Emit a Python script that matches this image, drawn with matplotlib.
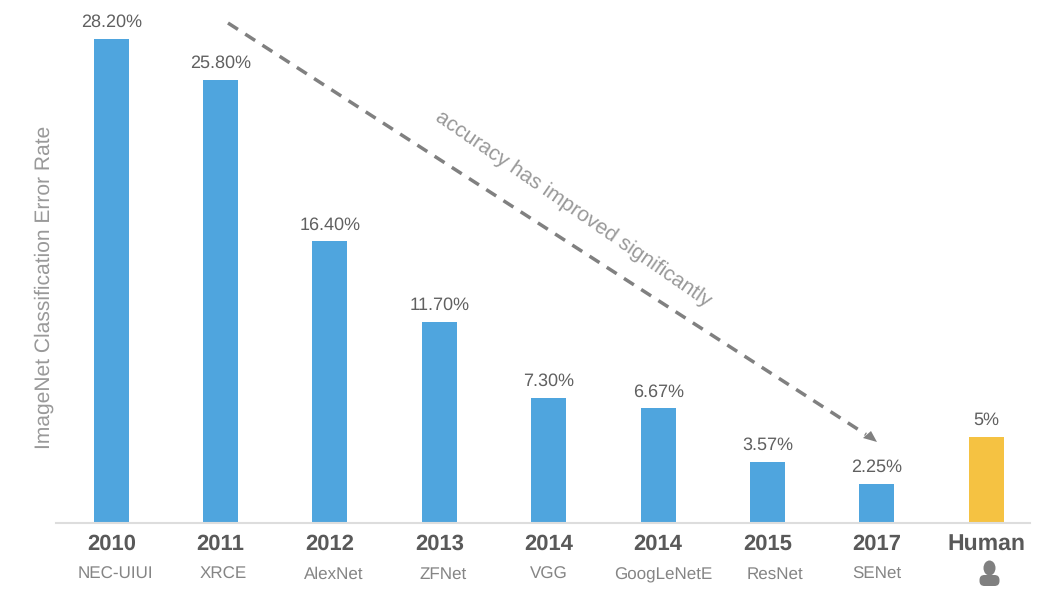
import matplotlib
matplotlib.use("Agg")
import matplotlib.pyplot as plt
from matplotlib.patches import Ellipse, FancyBboxPatch, Polygon

plt.rcParams["font.family"] = ["Liberation Sans", "DejaVu Sans"]
plt.rcParams["text.hinting"] = "no_hinting"
plt.rcParams["text.hinting_factor"] = 1

# values
years = ["2010", "2011", "2012", "2013", "2014", "2014", "2015", "2017", "Human"]
models = ["NEC-UIUI", "XRCE", "AlexNet", "ZFNet", "VGG", "GoogLeNetE", "ResNet", "SENet", ""]
errors = [28.2, 25.8, 16.4, 11.7, 7.3, 6.67, 3.57, 2.25, 5]
value_labels = ["28.20%", "25.80%", "16.40%", "11.70%", "7.30%", "6.67%", "3.57%", "2.25%", "5%"]
bar_colors = ["#4fa5de"] * 8 + ["#f5c242"]
# the model names sit a little right of their bars in the original
model_shift = [4, 3, 4, 4, 0, 5, 7, 0, 0]

W, H = 1048, 604
fig = plt.figure(figsize=(W / 100, H / 100), dpi=100)

# axes spans the baseline, x=56..1030 px, y=523 up to the top of the figure
ax = fig.add_axes([56 / W, (H - 523) / H, (1030 - 56) / W, 523 / H])
x_pos = list(range(len(errors)))
ax.bar(x_pos, errors, width=0.32, color=bar_colors)
ax.set_xlim(-0.505, 8.4)
ax.set_ylim(0, 523 / 17.17)

for i, v in enumerate(errors):
    ax.annotate(value_labels[i], (i, v), xytext=(0, 6), textcoords="offset points",
                ha="center", va="bottom", fontsize=12.8, color="#606060")

for s in ["top", "left", "right"]:
    ax.spines[s].set_visible(False)
ax.spines["bottom"].set_color("#dddddd")
ax.spines["bottom"].set_linewidth(1.5)
ax.set_yticks([])
ax.set_xticks(x_pos)
ax.set_xticklabels(years, fontsize=15.5, fontweight="bold", color="#595959")
ax.tick_params(axis="x", length=0, pad=8)
ax.get_xticklabels()[-1].set_fontsize(16.5)

# overlay in pixel coordinates for the annotations
ov = fig.add_axes([0, 0, 1, 1])
ov.set_xlim(0, W)
ov.set_ylim(H, 0)
ov.axis("off")

for i, name in enumerate(models):
    if name:
        ov.text(ax.transData.transform((i, 0))[0] + model_shift[i], 579, name, ha="center", va="baseline",
                fontsize=12.6, color="#858585")

ov.text(44, 287, "ImageNet Classification Error Rate", rotation=90, ha="center", va="center",
        fontsize=15.3, color="#999999")
ov.text(573, 209, "accuracy has improved significantly", rotation=-34.6, rotation_mode="anchor",
        ha="center", va="center", fontsize=15.2, color="#999999")

# dashed arrow
ov.plot([228, 866], [23, 434.5], color="#808080", lw=2.5, dashes=(3.4, 2.5))
ov.add_patch(Polygon([(877, 442), (863, 438), (871, 431)], closed=True, color="#808080", lw=0))

# person icon under Human
ov.add_patch(Ellipse((989.5, 568), 12, 15, color="#808080", lw=0))
ov.add_patch(FancyBboxPatch((979.5, 575), 20, 11, boxstyle="round,pad=0,rounding_size=5", color="#808080", lw=0))

fig.savefig("out.png", dpi=100)
